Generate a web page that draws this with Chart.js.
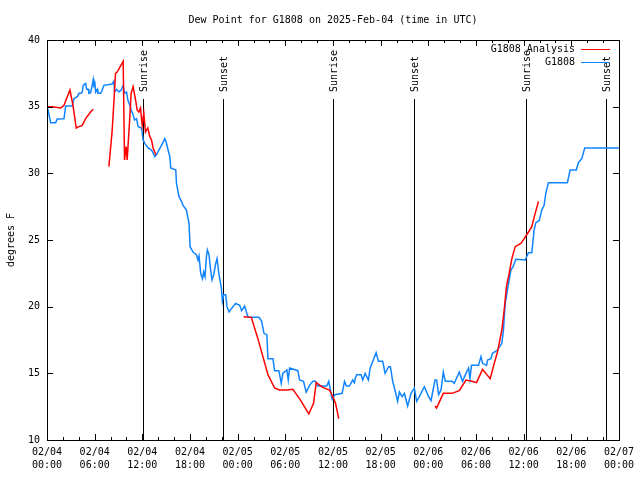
<!DOCTYPE html>
<html><head><meta charset="utf-8">
<script src="https://cdn.jsdelivr.net/npm/chart.js@4"></script>
<style>html,body{margin:0;padding:0;background:#fff}#wrap{width:640px;height:480px}</style>
</head><body><div id="wrap"><canvas id="c" width="640" height="480"></canvas></div>
<script>
const chartTitle = 'Dew Point for G1808 on 2025-Feb-04 (time in UTC)';
const yAxisTitle = 'degrees F';
const xTickLabels = [['02/04','00:00'],['02/04','06:00'],['02/04','12:00'],['02/04','18:00'],
  ['02/05','00:00'],['02/05','06:00'],['02/05','12:00'],['02/05','18:00'],
  ['02/06','00:00'],['02/06','06:00'],['02/06','12:00'],['02/06','18:00'],['02/07','00:00']];
const yTickValues = [10,15,20,25,30,35,40];
const seriesNames = ['G1808 Analysis','G1808'];

// hours since 02/04 00:00 UTC
const obsHours = [0,0.13,0.46,1.09,1.29,2.14,2.35,3.18,3.39,3.81,4.02,4.31,4.44,4.56,4.86,4.99,5.19,5.28,5.49,5.69,5.82,5.91,6.03,6.12,6.32,6.41,6.75,6.95,7.16,8.21,8.42,8.51,8.76,9.05,9.34,9.59,9.76,10.02,10.18,10.43,10.59,10.84,11.02,11.27,11.47,11.90,12.10,12.31,12.73,13.16,13.57,13.78,14.41,14.83,15.04,15.24,15.46,15.58,16.21,16.30,16.62,16.93,17.13,17.55,17.88,18.01,18.38,18.81,19.01,19.14,19.35,19.57,19.73,19.89,20.07,20.19,20.39,20.57,20.77,20.99,21.24,21.40,21.58,21.74,21.95,22.08,22.24,22.49,22.66,22.91,23.21,23.75,24.25,24.50,24.88,25.30,26.68,27.02,27.31,27.68,27.81,28.44,28.65,29.19,29.49,29.69,30.20,30.37,30.54,31.58,31.79,32.29,32.63,33.05,33.46,33.80,34.09,35.22,35.47,35.90,36.23,37.16,37.45,37.70,38.07,38.49,38.70,38.79,38.99,39.54,39.75,40.05,40.46,40.68,40.88,41.13,41.43,41.72,42.26,42.56,43.01,43.23,43.52,43.86,44.14,44.36,44.70,44.99,45.40,45.83,46.24,46.53,46.87,47.50,48.04,48.34,48.84,49.04,49.30,49.60,49.89,50.14,50.98,51.27,51.90,52.11,52.31,52.74,53.07,53.24,53.44,54.32,54.63,54.83,55.33,55.46,55.88,56.08,56.71,57.26,57.46,57.68,57.89,58.18,58.40,58.68,59.02,60.19,60.61,61.03,61.32,61.54,61.95,62.29,62.58,62.79,63.12,65.51,65.85,66.64,66.89,67.32,67.69,72.00];
const obsValues = [35.0,34.75,33.8,33.8,34.07,34.1,35.05,35.05,35.6,35.75,36.0,36.0,36.1,36.6,36.75,36.3,36.3,36.0,36.05,36.6,37.05,36.6,36.75,36.1,36.3,36.0,36.0,36.25,36.6,36.7,36.9,36.1,36.3,36.1,36.25,36.6,36.0,36.1,35.5,35.1,34.75,34.4,34.0,34.1,33.5,33.4,32.5,32.25,31.9,31.75,31.25,31.4,32.1,32.6,32.25,31.75,31.25,30.4,30.25,29.25,28.25,27.9,27.6,27.25,26.25,24.5,24.1,23.9,23.5,23.8,22.5,22.1,22.6,22.25,23.75,24.25,23.9,22.9,22.0,22.4,23.25,23.6,22.75,22.1,21.4,20.4,20.9,20.9,20.0,19.6,19.85,20.25,20.1,19.7,20.05,19.2,19.2,18.9,18.0,17.9,16.1,16.1,15.2,15.2,14.25,15.0,15.25,14.5,15.4,15.2,14.5,14.4,13.6,14.1,14.4,14.4,14.05,14.05,14.4,13.05,13.4,13.5,14.4,14.05,14.05,14.5,14.3,14.6,14.9,14.9,14.5,15.0,14.5,15.4,15.7,16.1,16.55,15.9,15.9,15.0,15.5,15.5,14.4,13.6,12.9,13.6,13.25,13.5,12.55,13.5,13.9,12.9,13.25,14.0,13.25,12.95,14.5,14.5,13.4,13.75,15.1,14.4,14.4,14.25,15.1,14.75,14.4,15.0,15.4,14.6,15.6,15.6,16.25,15.75,15.6,16.0,16.1,16.5,16.75,17.25,18.25,20.25,21.0,22.0,22.75,23.0,23.55,23.5,24.05,24.05,25.75,26.3,26.45,27.25,27.6,28.5,29.3,29.3,30.25,30.25,30.8,31.1,31.9,31.9];

// analysis; null marks a gap
const anaHours = [0,0.67,1.72,2.14,2.89,3.27,3.68,4.02,4.44,4.86,5.49,5.82,6.8,
  7.79,8.21,8.63,8.83,9.59,9.76,9.96,10.09,10.43,10.59,10.84,11.15,11.35,11.56,11.77,11.98,12.19,12.40,12.69,12.94,13.16,13.36,13.70,19.0,
  24.75,25.72,26.55,27.18,27.81,28.65,29.28,30.32,30.95,31.79,32.96,33.55,33.89,34.72,35.56,35.98,36.32,36.73,42.0,
  48.84,49.04,49.89,50.98,51.90,52.74,53.49,54.07,54.83,55.79,56.30,56.71,57.26,57.55,57.84,58.18,58.52,58.94,59.65,60.07,60.61,61.03,61.32,61.87];
const anaValues = [35.0,35.0,34.9,35.1,36.25,35.1,33.4,33.5,33.6,34.1,34.6,34.8,null,
  30.5,33.25,37.5,37.6,38.4,31.0,32.0,31.0,34.25,36.0,36.5,35.5,34.75,34.6,34.9,33.6,34.5,33.1,33.4,32.75,32.5,31.9,31.4,null,
  19.25,19.2,17.6,16.25,14.9,13.9,13.75,13.75,13.8,13.1,11.95,12.75,14.3,13.95,13.75,13.25,12.75,11.6,null,
  12.55,12.4,13.5,13.5,13.7,14.5,14.4,14.3,15.3,14.6,15.75,16.6,18.25,19.75,21.5,22.5,23.6,24.5,24.75,25.1,25.6,26.0,26.7,27.9];

const eventHours = [12.06,22.1,36.06,46.2,60.3,70.4];
const eventNames = ['Sunrise','Sunset','Sunrise','Sunset','Sunrise','Sunset'];

const FONT = '"DejaVu Sans Mono", "Liberation Mono", monospace';
const RED = '#ff0000';
const BLUE = 'rgb(16,132,255)';

const toPts = (xs, ys) => xs.map((x, i) => ({x: x, y: ys[i]}));

const decor = {
  id: 'decor',
  beforeDatasetsDraw(chart) {
    const {ctx, chartArea: a, scales: {x}} = chart;
    ctx.save();
    ctx.strokeStyle = '#000';
    ctx.lineWidth = 1;
    eventHours.forEach(h => {
      const px = Math.round(x.getPixelForValue(h)) + 0.5;
      ctx.beginPath();
      ctx.moveTo(px, a.top + 59);
      ctx.lineTo(px, a.bottom);
      ctx.stroke();
    });
    ctx.restore();
  },
  afterDraw(chart) {
    const {ctx, chartArea: a, scales: {x, y}} = chart;
    ctx.save();
    ctx.strokeStyle = '#000';
    ctx.lineWidth = 1;
    // frame
    ctx.strokeRect(Math.round(a.left) + 0.5, Math.round(a.top) + 0.5, Math.round(a.right - a.left), Math.round(a.bottom - a.top));
    // x ticks (major every 6h, minor every 2h), inward on top and bottom
    ctx.beginPath();
    for (let h = 0; h <= 72; h += 2) {
      const px = Math.round(x.getPixelForValue(h)) + 0.5;
      const len = (h % 6 === 0) ? 6 : 3;
      ctx.moveTo(px, a.bottom); ctx.lineTo(px, a.bottom - len);
      ctx.moveTo(px, a.top); ctx.lineTo(px, a.top + len);
    }
    yTickValues.forEach(v => {
      const py = Math.round(y.getPixelForValue(v)) + 0.5;
      ctx.moveTo(a.left, py); ctx.lineTo(a.left + 6, py);
      ctx.moveTo(a.right, py); ctx.lineTo(a.right - 6, py);
    });
    ctx.stroke();
    // event labels
    ctx.fillStyle = '#000';
    ctx.font = '10px ' + FONT;
    eventHours.forEach((h, i) => {
      const px = Math.round(x.getPixelForValue(h)) + 1.5;
      ctx.save();
      ctx.translate(px, a.top + 52);
      ctx.rotate(-Math.PI / 2);
      ctx.textAlign = 'left';
      ctx.textBaseline = 'middle';
      ctx.fillText(eventNames[i], 0, 0);
      ctx.restore();
    });
    // title
    ctx.textAlign = 'center';
    ctx.textBaseline = 'middle';
    ctx.fillText(chartTitle, (a.left + a.right) / 2, 20);
    // y title
    ctx.save();
    ctx.translate(11, (a.top + a.bottom) / 2);
    ctx.rotate(-Math.PI / 2);
    ctx.fillText(yAxisTitle, 0, 0);
    ctx.restore();
    // legend
    const colors = [RED, BLUE];
    seriesNames.forEach((name, i) => {
      const ly = 49 + i * 13;
      ctx.textAlign = 'right';
      ctx.fillStyle = '#000';
      ctx.fillText(name, 575, ly);
      ctx.strokeStyle = colors[i];
      ctx.beginPath();
      ctx.moveTo(581, Math.round(ly) + 0.5);
      ctx.lineTo(610, Math.round(ly) + 0.5);
      ctx.stroke();
    });
    ctx.restore();
  }
};

new Chart(document.getElementById('c'), {
  type: 'line',
  data: {
    datasets: [
      {label: seriesNames[0], data: toPts(anaHours, anaValues), borderColor: RED, borderWidth: 1.5, pointRadius: 0, tension: 0, spanGaps: false, order: 1},
      {label: seriesNames[1], data: toPts(obsHours, obsValues), borderColor: BLUE, borderWidth: 1.5, pointRadius: 0, tension: 0, spanGaps: false, order: 2}
    ]
  },
  options: {
    responsive: false,
    animation: false,
    devicePixelRatio: 1,
    layout: {padding: {top: 40, right: 20, left: 0, bottom: 0}},
    plugins: {legend: {display: false}, title: {display: false}, tooltip: {enabled: false}},
    scales: {
      x: {
        type: 'linear', min: 0, max: 72,
        grid: {display: false, drawTicks: false},
        border: {display: false},
        afterBuildTicks(s) { s.ticks = xTickLabels.map((_, i) => ({value: i * 6})); },
        afterFit(s) { s.height = 40; },
        ticks: {
          autoSkip: false, maxRotation: 0, minRotation: 0, padding: 6, color: '#000',
          font: {family: FONT, size: 10, lineHeight: 1.3},
          callback: (v) => xTickLabels[Math.round(v / 6)] || ''
        }
      },
      y: {
        min: 10, max: 40,
        grid: {display: false, drawTicks: false},
        border: {display: false},
        afterBuildTicks(s) { s.ticks = yTickValues.map(v => ({value: v})); },
        afterFit(s) { s.width = 47; },
        ticks: {padding: 7, color: '#000', font: {family: FONT, size: 10}}
      }
    }
  },
  plugins: [decor]
});
</script>
</body></html>
